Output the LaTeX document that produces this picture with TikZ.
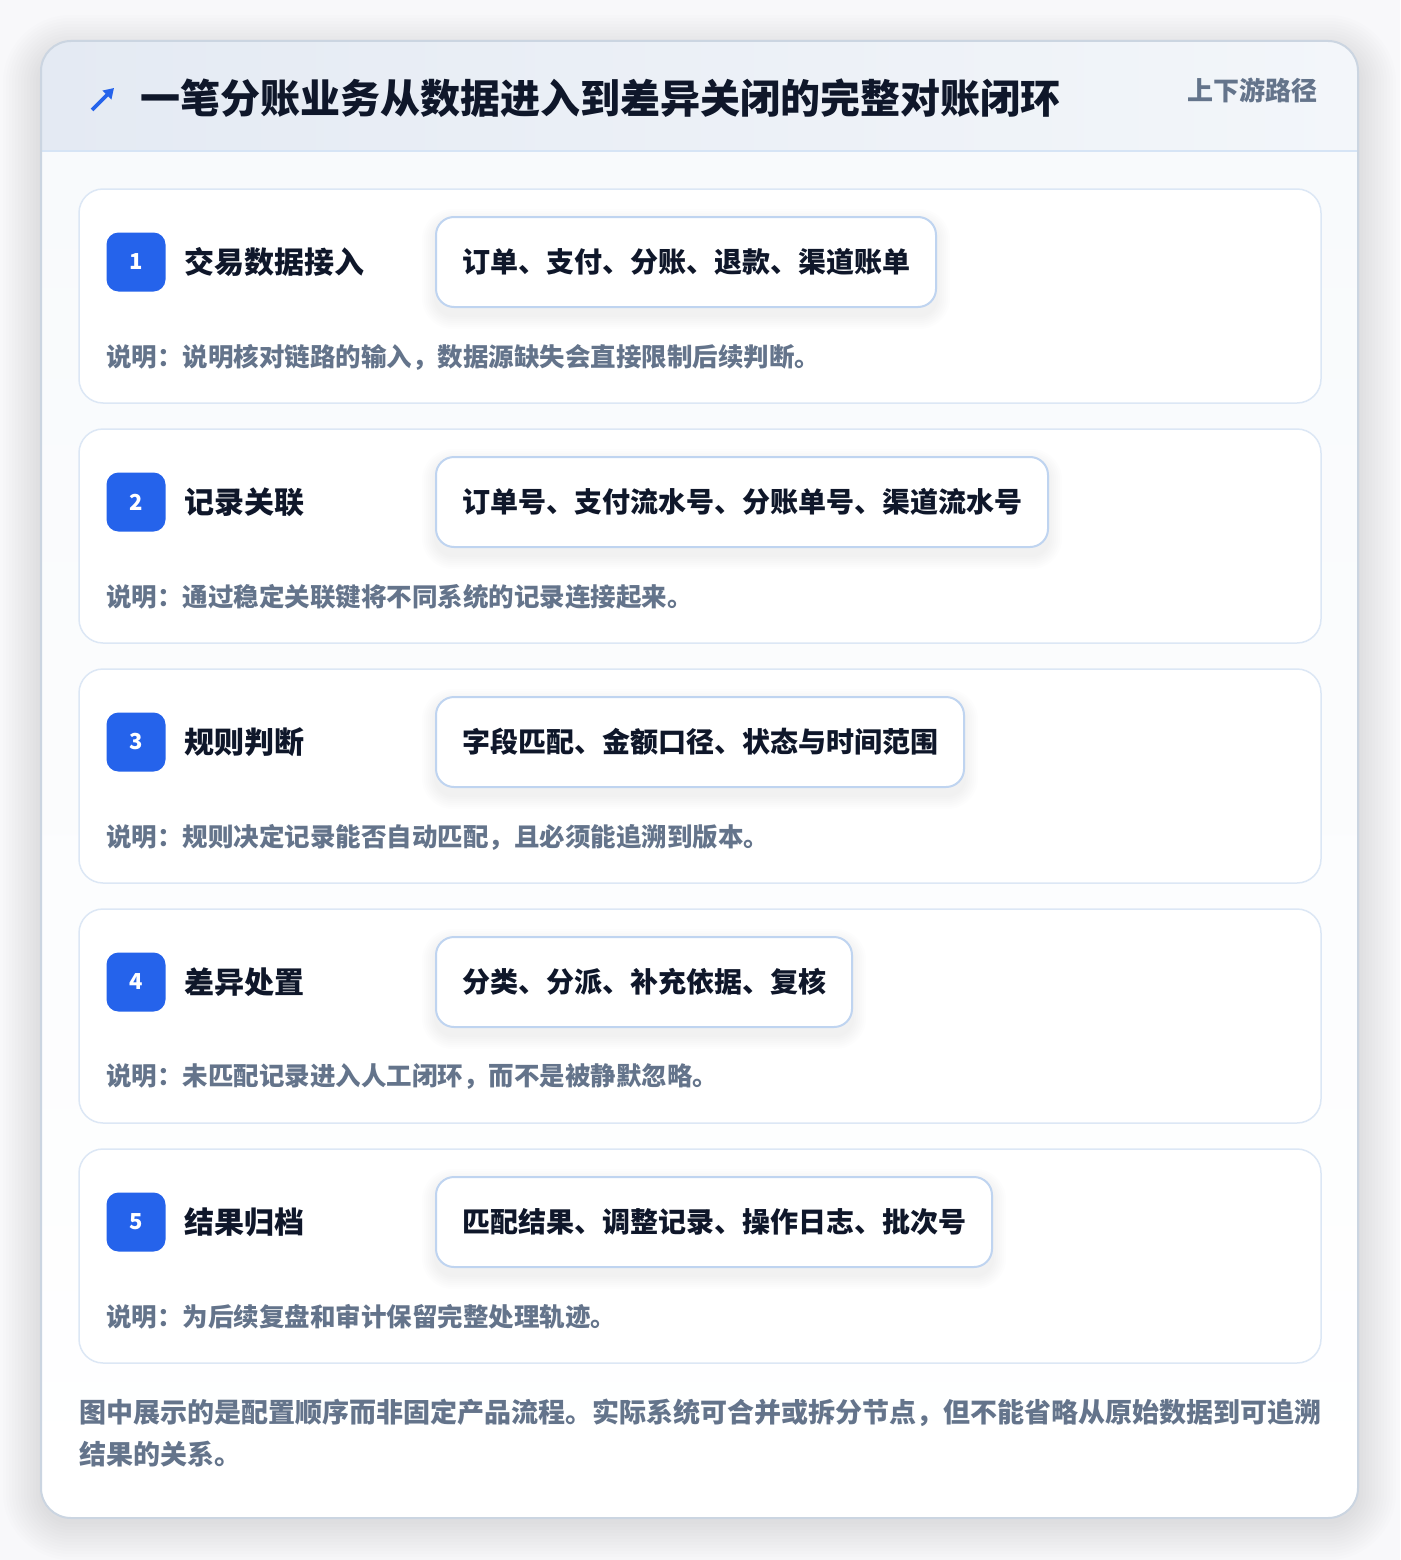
\documentclass[tikz,border=0pt]{standalone}
\usepackage{fontspec}
\setmainfont{Noto Sans CJK SC}
\usetikzlibrary{positioning,arrows.meta}

\definecolor{pagebg}{HTML}{F8F8FA}
\definecolor{shadowgray}{HTML}{6B7280}
\definecolor{cardline}{HTML}{CBD5E1}
\definecolor{headleft}{HTML}{E4EAF3}
\definecolor{headright}{HTML}{F3F6FA}
\definecolor{headline}{HTML}{D6E4F5}
\definecolor{bodybg}{HTML}{F8FAFC}
\definecolor{stepline}{HTML}{DCE7F5}
\definecolor{chipline}{HTML}{BFD4F0}
\definecolor{badgeblue}{HTML}{2563EB}
\definecolor{ink}{HTML}{0F172A}
\definecolor{muted}{HTML}{64748B}

\tikzset{
  stepcard/.style={draw=stepline, line width=1.5pt, fill=white, rounded corners=24pt},
  badge/.style={fill=badgeblue, rounded corners=12pt, minimum width=59pt, minimum height=59pt,
    inner sep=0pt, text=white, font=\bfseries\fontsize{22}{26}\selectfont},
  steptitle/.style={anchor=west, inner sep=0pt, text=ink, font=\bfseries\fontsize{30}{36}\selectfont},
  chip/.style={draw=chipline, line width=2pt, fill=white, rounded corners=18pt, anchor=west,
    minimum height=90pt, inner xsep=26pt, text=ink, font=\bfseries\fontsize{28}{34}\selectfont},
  note/.style={anchor=west, inner sep=0pt, text=muted,
    font=\bfseries\fontsize{25.5}{30}\selectfont\addfontfeatures{Kerning=Off}}
}

\begin{document}
\begin{tikzpicture}[x=1pt, y=-1pt]

    % Define parameters
    \def\cardL{41}    % card left
    \def\cardR{1358}  % card right
    \def\cardT{41}    % card top
    \def\cardB{1518}  % card bottom
    \def\headB{151}   % header bottom

    \useasboundingbox (0,0) rectangle (1400,1560);
    \fill[pagebg] (0,0) rectangle (1400,1560);

    % soft shadow of the outer card
    \foreach \s in {2,5,...,38}
        \fill[shadowgray, opacity=0.012, rounded corners=30pt+\s pt]
          (\cardL-\s,\cardT-\s+12) rectangle (\cardR+\s,\cardB+\s+4);

    % outer card
    \begin{scope}
        \clip[rounded corners=30pt] (\cardL,\cardT) rectangle (\cardR,\cardB);
        \shade[top color=bodybg, bottom color=white] (\cardL,\headB) rectangle (\cardR,\cardB);
        \shade[left color=headleft, right color=headright] (\cardL,\cardT) rectangle (\cardR,\headB);
    \end{scope}
    \draw[headline, line width=1.5pt] (\cardL,\headB) -- (\cardR,\headB);
    \draw[cardline, line width=2pt, rounded corners=30pt] (\cardL,\cardT) rectangle (\cardR,\cardB);

    % header
    \coordinate (icontail) at (92,110);
    \coordinate (iconhead) at (114,88);
    \draw[badgeblue, line width=3.6pt, -{Triangle[width=12pt,length=10pt]}] (icontail) -- (iconhead);
    \node[anchor=west, inner sep=0pt, text=ink, font=\bfseries\fontsize{40}{48}\selectfont] (title) at (140,98)
      {一笔分账业务从数据进入到差异关闭的完整对账闭环};
    \node[anchor=east, inner sep=0pt, text=muted, font=\bfseries\fontsize{26}{30}\selectfont] (route) at (1318,90)
      {上下游路径};

    % steps
    \foreach \i/\name/\items/\desc in {
        1/交易数据接入/订单、支付、分账、退款、渠道账单/说明核对链路的输入，数据源缺失会直接限制后续判断。,
        2/记录关联/订单号、支付流水号、分账单号、渠道流水号/通过稳定关联键将不同系统的记录连接起来。,
        3/规则判断/字段匹配、金额口径、状态与时间范围/规则决定记录能否自动匹配，且必须能追溯到版本。,
        4/差异处置/分类、分派、补充依据、复核/未匹配记录进入人工闭环，而不是被静默忽略。,
        5/结果归档/匹配结果、调整记录、操作日志、批次号/为后续复盘和审计保留完整处理轨迹。}
    {
        \pgfmathsetmacro\ytop{189+240*(\i-1)}
        \draw[stepcard] (79,\ytop) rectangle (1321,\ytop+214);
        \node[badge] (badge\i) at (136,\ytop+73) {\i};
        \node[steptitle, right=19pt of badge\i] (name\i) {\name};
        \node[chip, draw=none, fill=none, text=white] (ghost\i) at (435,\ytop+73) {\items};
        % chip shadow
        \foreach \s in {1,3,...,13}
            \fill[shadowgray, opacity=0.012, rounded corners=18pt+\s pt]
              ([xshift=-\s pt, yshift=\s pt-6pt]ghost\i.north west) rectangle ([xshift=\s pt, yshift=-\s pt-8pt]ghost\i.south east);
        \node[chip] (chip\i) at (435,\ytop+73) {\items};
        \node[note] (note\i) at (106,\ytop+168) {说明：\desc};
    }

    % footer
    \node[anchor=north west, inner sep=0pt, align=left, text=muted,
      font=\bfseries\fontsize{27}{42}\selectfont] (foot) at (79,1399)
      {图中展示的是配置顺序而非固定产品流程。实际系统可合并或拆分节点，但不能省略从原始数据到可追溯\\结果的关系。};

\end{tikzpicture}
\end{document}
